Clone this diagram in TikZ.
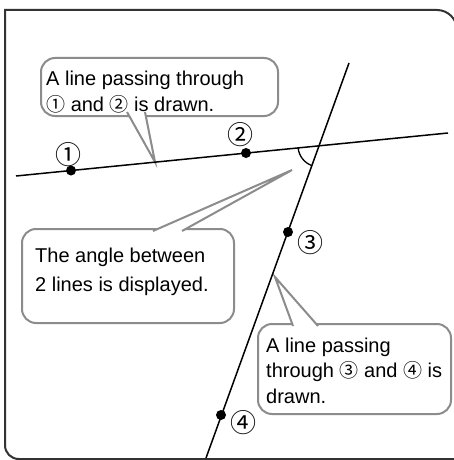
\documentclass[tikz,border=0pt]{standalone}
\usepackage{fontspec}
\setmainfont{Liberation Sans}
\newfontfamily\symf{Noto Sans CJK JP}
\usetikzlibrary{angles}
\definecolor{cgray}{HTML}{8C8C8C}
\definecolor{framec}{HTML}{333333}
\newcommand{\cnum}[1]{{\symf\fontsize{19}{19}\selectfont#1}}
\begin{document}
\begin{tikzpicture}[x=1pt,y=-1pt,
  callout/.style={draw=cgray, line width=2pt, fill=white, rounded corners=14pt, inner sep=0pt, anchor=north west},
  pointer/.style={draw=cgray, line width=2pt, line join=miter},
  blackline/.style={line width=1.5pt, black},
  dot/.style={circle, fill=black, inner sep=0pt, minimum size=10pt},
  numlabel/.style={font=\symf\fontsize{26}{26}\selectfont, inner sep=0pt},
  ctext/.style={anchor=base west, align=left, inner sep=0pt}]
\clip (0,0) rectangle (454,460);
\fill[white] (0,0) rectangle (454,460);
% frame
\draw[framec, line width=2pt] (5,445) -- (5,10) -- (437,10) .. controls (448,10) and (457,19) .. (457,30) -- (457,459);
\draw[framec, line width=2pt] (5,445) .. controls (5,453) and (11,459) .. (19,459) -- (457,459);

% line coordinates
\coordinate (La) at (16,176);
\coordinate (Lb) at (448,133);
\coordinate (Ma) at (349,63);
\coordinate (Mb) at (206,458);
\coordinate (X) at (intersection of La--Lb and Ma--Mb);

% callout 1
\node[callout, minimum width=237pt, minimum height=58pt] (c1) at (40,57) {};
\coordinate (t1) at (155,162);
\coordinate (a1) at (127,112);
\coordinate (b1) at (145,112);
\fill[white] (a1) -- (t1) -- (b1) -- cycle;
\draw[pointer] (a1) -- (t1) -- (b1);
\node[ctext, font=\fontsize{20}{26}\selectfont] (c1t) at (46,111) {A line passing through\\\cnum{①} and \cnum{②} is drawn.};

% callout 2
\node[callout, minimum width=212pt, minimum height=94pt] (c2) at (21,228) {};
\coordinate (t2) at (292,170);
\coordinate (a2) at (153,231);
\coordinate (b2) at (182,231);
\fill[white] (a2) -- (t2) -- (b2) -- cycle;
\draw[pointer] (a2) -- (t2) -- (b2);
\node[ctext, font=\fontsize{20}{29}\selectfont] (c2t) at (35,291) {The angle between\\2 lines is displayed.};

% callout 3
\node[callout, minimum width=193pt, minimum height=90pt] (c3) at (257,323) {};
\coordinate (t3) at (275,277);
\coordinate (a3) at (293,326);
\coordinate (b3) at (318,326);
\fill[white] (a3) -- (t3) -- (b3) -- cycle;
\draw[pointer] (a3) -- (t3) -- (b3);
\node[ctext, font=\fontsize{20}{25.5}\selectfont] (c3t) at (266,403) {A line passing\\through \cnum{③} and \cnum{④} is\\drawn.};

% lines
\draw[blackline] (La) -- (Lb);
\draw[blackline] (Ma) -- (Mb);
\pic[draw, line width=1.3pt, angle radius=21pt] {angle = La--X--Mb};

% points
\node[dot] (p1) at (71,170.5) {};
\node[dot] (p2) at (246,153) {};
\node[dot] (p3) at (288,232) {};
\node[dot] (p4) at (221,415) {};
\node[numlabel] (n1) at (68,155) {①};
\node[numlabel] (n2) at (240,135) {②};
\node[numlabel] (n3) at (310,243) {③};
\node[numlabel] (n4) at (243,423) {④};
\end{tikzpicture}
\end{document}
